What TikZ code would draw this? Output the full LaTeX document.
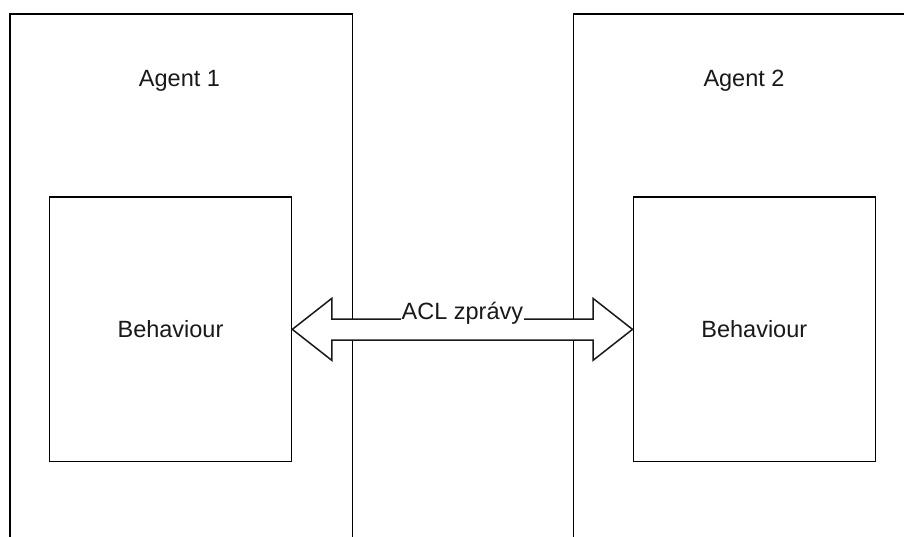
\documentclass[tikz,border=0pt]{standalone}
\usepackage{fontspec}
\setmainfont{Liberation Sans}
\usetikzlibrary{calc}
\begin{document}
\begin{tikzpicture}[x=1pt,y=-1pt,
  agentbox/.style={draw=black,line width=1.6pt,rectangle,anchor=north west,inner sep=0pt,minimum width=342.5pt,minimum height=560pt},
  behbox/.style={draw=black,line width=1.6pt,rectangle,anchor=north west,inner sep=0pt,minimum width=242pt,minimum height=264.5pt,text=black!90,font=\fontsize{23.5}{28}\selectfont},
  lbl/.style={text=black!90,font=\fontsize{23.5}{28}\selectfont,inner sep=0pt,anchor=base},
  blockarrow/.style={draw=black!90,line width=1.5pt,fill=white,line join=miter}]
\useasboundingbox (0,0) rectangle (904,536);
\clip (0,0) rectangle (904,536);
\fill[white] (0,0) rectangle (904,536);
\node[agentbox] (a1) at (9,13.3) {};
\node[agentbox] (a2) at (572.5,13.3) {};
\node[lbl] (t1) at (179.5,86.5) {Agent 1};
\node[lbl] (t2) at (744,86.5) {Agent 2};
\node[behbox] (b1) at (48.7,196.3) {Behaviour};
\node[behbox] (b2) at (632.5,196.3) {Behaviour};
% double block arrow between the behaviour boxes
\draw[blockarrow] (b1.east)
  -- ($(b1.east)+(39.5,-31)$) -- ($(b1.east)+(39.5,-10.3)$)
  -- ($(b2.west)+(-39.5,-10.3)$) -- ($(b2.west)+(-39.5,-31)$)
  -- (b2.west)
  -- ($(b2.west)+(-39.5,31)$) -- ($(b2.west)+(-39.5,10.7)$)
  -- ($(b1.east)+(39.5,10.7)$) -- ($(b1.east)+(39.5,31)$)
  -- cycle;
\node[lbl,fill=white,inner xsep=0.5pt,inner ysep=1pt] (msg) at ($(b1.east)!0.5!(b2.west)+(0,-10)$) {ACL zprávy};
\end{tikzpicture}
\end{document}
